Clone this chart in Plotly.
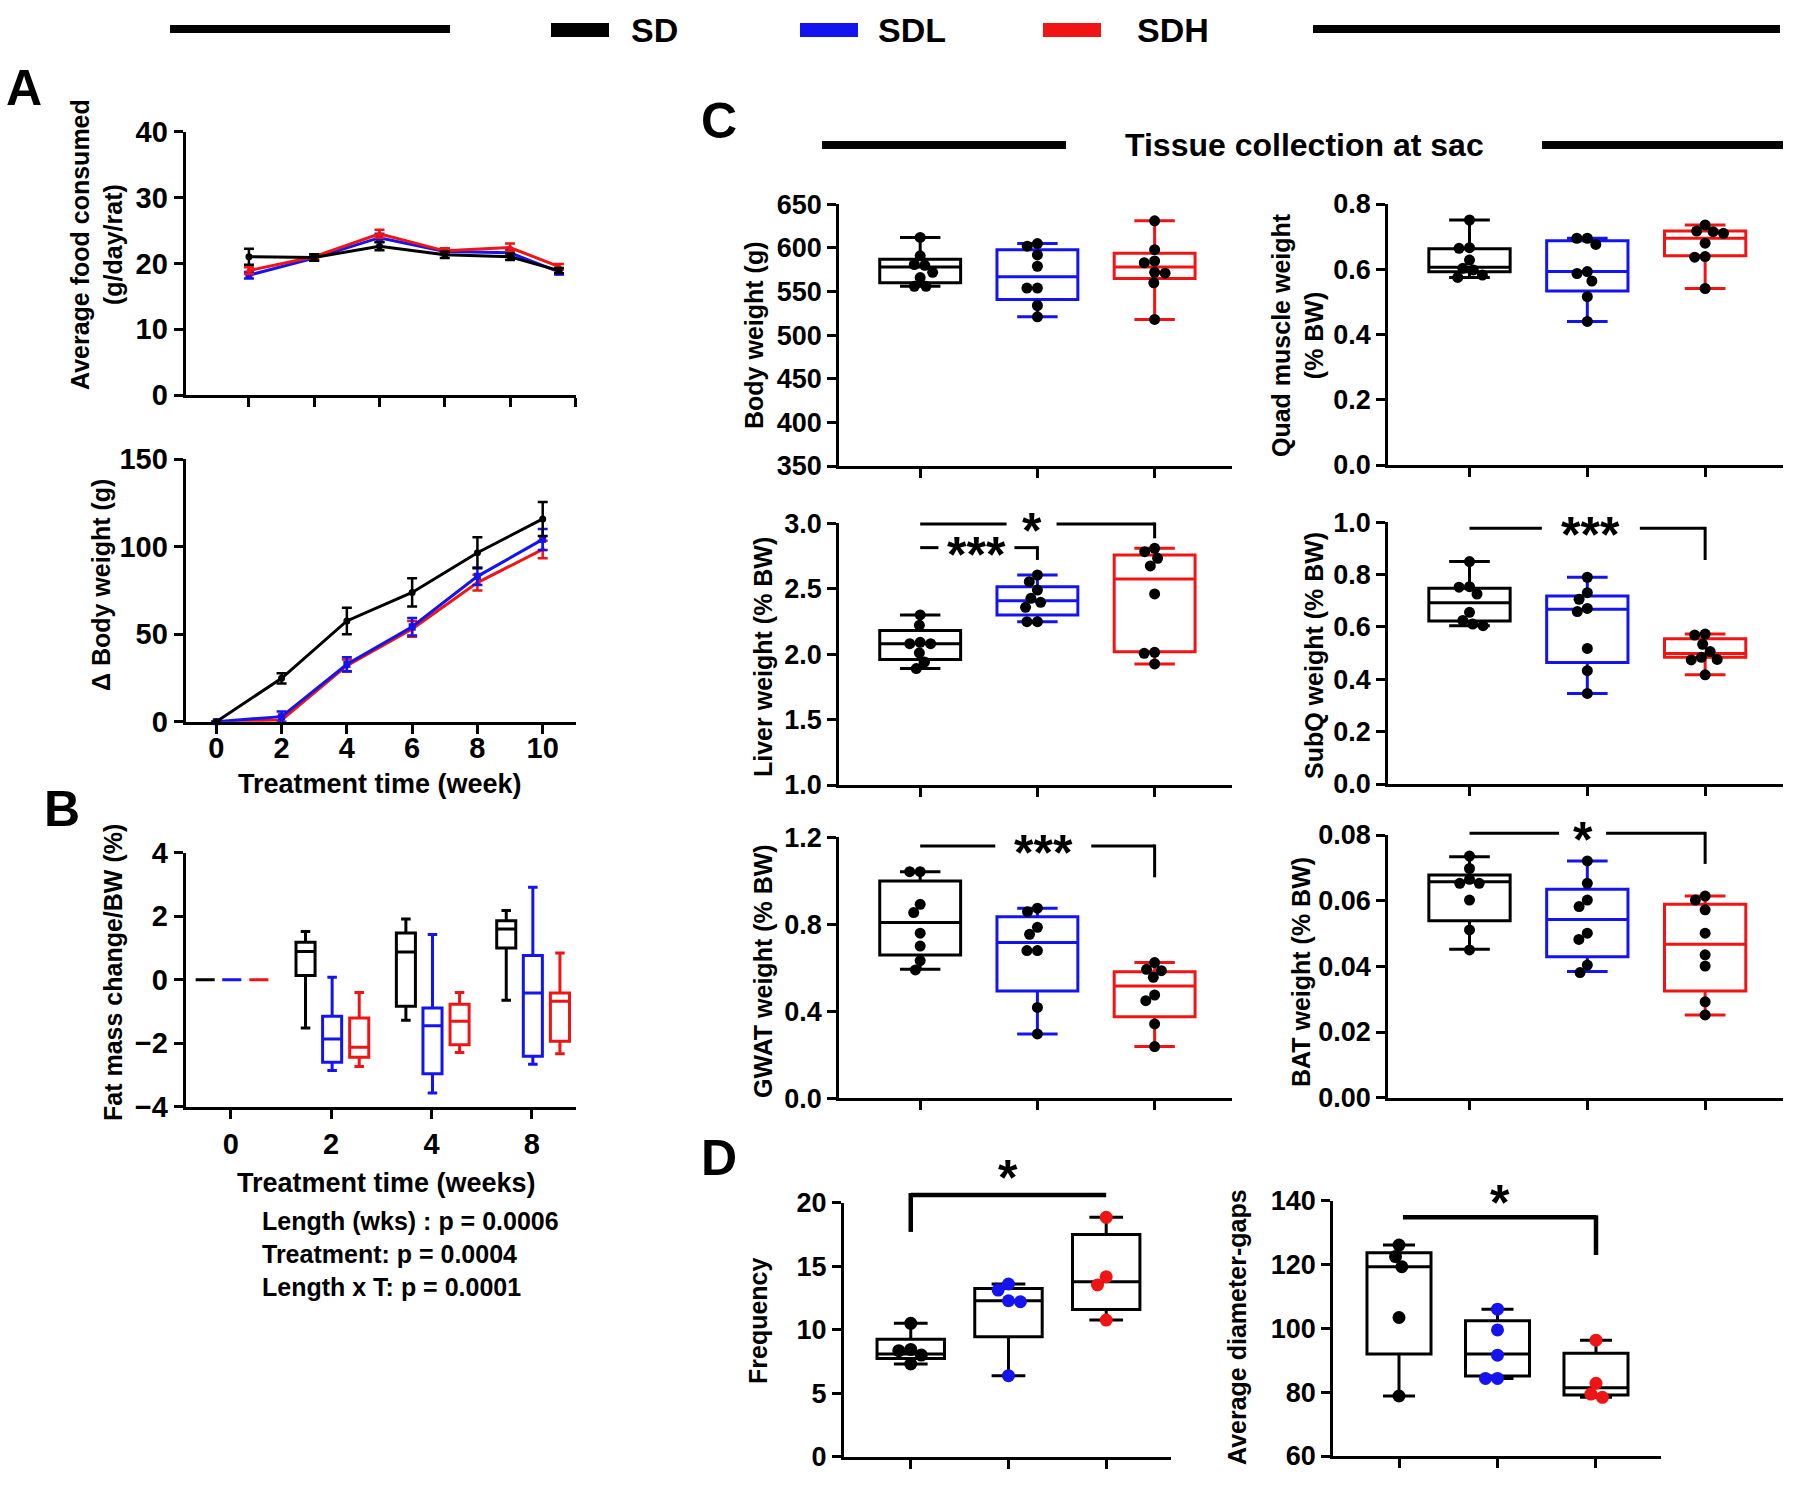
import plotly.graph_objects as go

W, H = 1800, 1506
FONT = "Liberation Sans, Arial, sans-serif"
BLACK, BLUE, RED = "#000000", "#1414f0", "#f01414"
GROUPS = ["SD", "SDL", "SDH"]

# ---------------- Panel A data ----------------
food_weeks = [1, 3, 5, 7, 9, 10.5]
food_sd = [21.0, 20.9, 22.6, 21.3, 21.0, 18.9]
food_sdl = [18.2, 20.8, 23.9, 21.8, 21.6, 18.7]
food_sdh = [18.9, 21.0, 24.5, 21.9, 22.4, 19.5]
food_err_sd = [1.2, 0.5, 0.6, 0.5, 0.5, 0.4]
food_err_sdl = [0.5, 0.4, 0.6, 0.4, 0.5, 0.4]
food_err_sdh = [0.5, 0.4, 0.6, 0.4, 0.6, 0.4]

bw_weeks = [0, 2, 4, 6, 8, 10]
dbw_sd = [0, 24.8, 57.6, 73.9, 96.6, 115.9]
dbw_sdl = [0, 2.9, 32.8, 54.3, 83.1, 104.2]
dbw_sdh = [0, 1.0, 32.0, 53.0, 79.5, 98.5]
dbw_err_sd = [0, 2.9, 7.6, 8.1, 8.9, 9.7]
dbw_err_sdl = [0, 3.0, 4.0, 5.0, 5.0, 6.0]
dbw_err_sdh = [0, 2.0, 3.5, 4.5, 4.5, 5.0]

# ---------------- Panel B data (min, q1, median, q3, max) ----------------
fat_weeks = ["0", "2", "4", "8"]
fat_sd = [[0, 0, 0, 0, 0], [-1.52, 0.13, 0.89, 1.18, 1.52],
          [-1.28, -0.84, 0.87, 1.47, 1.91], [-0.65, 1.0, 1.6, 1.86, 2.18]]
fat_sdl = [[0, 0, 0, 0, 0], [-2.86, -2.6, -1.87, -1.15, 0.08],
           [-3.57, -2.96, -1.45, -0.89, 1.42], [-2.66, -2.41, -0.42, 0.76, 2.91]]
fat_sdh = [[0, 0, 0, 0, 0], [-2.73, -2.44, -2.13, -1.21, -0.4],
           [-2.29, -2.05, -1.31, -0.77, -0.4], [-2.33, -1.94, -0.68, -0.42, 0.84]]
p_texts = ["Length (wks) : p = 0.0006", "Treatment: p = 0.0004", "Length x T: p = 0.0001"]

# ---------------- Panel C data ----------------
body_pts = [[612, 591, 581, 580, 572, 566, 556, 556],
            [605, 602, 592, 579, 554, 554, 534, 521],
            [631, 598, 585, 583, 572, 571, 560, 518]]
body_stats = [[556, 560, 578, 587, 612], [521, 541, 567, 598, 605], [518, 565, 578, 594, 631]]

quad_pts = [[0.751, 0.666, 0.664, 0.628, 0.603, 0.598, 0.582, 0.575],
            [0.695, 0.695, 0.676, 0.593, 0.587, 0.564, 0.516, 0.44],
            [0.736, 0.717, 0.715, 0.71, 0.68, 0.639, 0.637, 0.541]]
quad_stats = [[0.575, 0.592, 0.606, 0.663, 0.751], [0.44, 0.533, 0.593, 0.687, 0.695],
              [0.541, 0.641, 0.695, 0.717, 0.736]]

liver_pts = [[2.30, 2.22, 2.09, 2.08, 2.08, 2.01, 1.94, 1.89],
             [2.605, 2.554, 2.49, 2.427, 2.396, 2.358, 2.248, 2.248],
             [2.809, 2.783, 2.732, 2.674, 2.46, 2.014, 2.006, 1.925]]
liver_stats = [[1.89, 1.96, 2.08, 2.18, 2.30], [2.248, 2.30, 2.409, 2.516, 2.605],
               [1.925, 2.019, 2.575, 2.758, 2.809]]

subq_pts = [[0.85, 0.754, 0.752, 0.726, 0.656, 0.625, 0.611, 0.605],
            [0.79, 0.731, 0.706, 0.671, 0.659, 0.518, 0.433, 0.346],
            [0.573, 0.569, 0.534, 0.506, 0.484, 0.476, 0.474, 0.417]]
subq_stats = [[0.605, 0.623, 0.693, 0.748, 0.85], [0.346, 0.464, 0.668, 0.718, 0.79],
              [0.417, 0.484, 0.499, 0.555, 0.573]]

gwat_pts = [[1.042, 1.042, 0.892, 0.854, 0.759, 0.70, 0.633, 0.59],
            [0.874, 0.858, 0.786, 0.754, 0.679, 0.679, 0.418, 0.296],
            [0.624, 0.593, 0.587, 0.556, 0.475, 0.449, 0.342, 0.238]]
gwat_stats = [[0.593, 0.659, 0.808, 0.999, 1.042], [0.296, 0.493, 0.716, 0.835, 0.874],
              [0.238, 0.375, 0.516, 0.582, 0.624]]

bat_pts = [[0.0736, 0.0698, 0.0665, 0.0653, 0.0653, 0.0602, 0.0511, 0.045],
           [0.0721, 0.0653, 0.0602, 0.0582, 0.0501, 0.0482, 0.0404, 0.0381],
           [0.0614, 0.0602, 0.0572, 0.0501, 0.0435, 0.0401, 0.0292, 0.0252]]
bat_stats = [[0.0452, 0.0539, 0.0658, 0.0678, 0.0734], [0.0384, 0.0429, 0.0543, 0.0635, 0.0721],
             [0.0252, 0.0325, 0.0467, 0.0589, 0.0614]]

# ---------------- Panel D data ----------------
freq_pts = [[10.5, 8.45, 8.35, 8.0, 7.3], [13.6, 13.12, 12.28, 12.2, 6.38], [18.85, 14.17, 13.52, 10.76]]
freq_stats = [[7.3, 7.74, 8.08, 9.24, 10.5], [6.38, 9.45, 12.28, 13.25, 13.6], [10.76, 11.6, 13.78, 17.5, 18.85]]

gap_pts = [[126.1, 122.5, 119.3, 103.4, 78.8], [106, 99.5, 91.6, 84.3, 84.3], [96.3, 82.8, 79.4, 78.4]]
gap_stats = [[78.8, 92, 119.3, 123.7, 126.1], [84.3, 85.1, 92, 102.4, 106], [78.4, 79.1, 81.4, 92.2, 96.3]]

# =====================================================================
TICK_FS_AB = 29
TICK_FS_CD = 27
TITLE_FS = 25
fig = go.Figure()
panels = {}


def tfont(size):
    return dict(family=FONT, size=size, color="black", weight="bold")


def add_axes(idx, px, py, xr, yr, ytickvals, yfmt=None, xtickvals=None, xticktext=None, xstandoff=0,
             tick_fs=TICK_FS_CD):
    x0, x1 = px
    y0, y1 = py
    panels[idx] = dict(px=px, py=py, xr=xr, yr=yr)
    sx = "" if idx == 1 else str(idx)
    common = dict(showline=True, linewidth=3, linecolor="black", ticks="outside", ticklen=9,
                  tickwidth=3, tickcolor="black", showgrid=False, zeroline=False,
                  tickfont=tfont(tick_fs), fixedrange=True, automargin=False)
    xa = dict(domain=[x0 / W, x1 / W], range=xr, anchor="y" + sx, tickvals=xtickvals, **common)
    if xticktext is None:
        xa["showticklabels"] = False
    else:
        xa["ticktext"] = xticktext
        xa["ticklabelstandoff"] = xstandoff
    ya = dict(domain=[1 - y1 / H, 1 - y0 / H], range=yr, anchor="x" + sx, tickvals=ytickvals, **common)
    if yfmt:
        ya["tickformat"] = yfmt
    fig.update_layout(**{"xaxis" + sx: xa, "yaxis" + sx: ya})
    return "x" + sx, "y" + sx


def to_paper(idx, x, y):
    p = panels[idx]
    (x0, x1), (y0, y1), xr, yr = p["px"], p["py"], p["xr"], p["yr"]
    px = x0 + (x - xr[0]) / (xr[1] - xr[0]) * (x1 - x0)
    py = y1 - (y - yr[0]) / (yr[1] - yr[0]) * (y1 - y0)
    return px, py


def txt(text, x, y, size, xanchor="center", yanchor="middle", angle=0):
    fig.add_annotation(text=text, x=x / W, y=1 - y / H, xref="paper", yref="paper", showarrow=False,
                       font=tfont(size), xanchor=xanchor, yanchor=yanchor, textangle=angle)


def seg(x0, y0, x1, y1, w, color="black"):
    fig.add_shape(type="line", xref="paper", yref="paper", x0=x0 / W, y0=1 - y0 / H,
                  x1=x1 / W, y1=1 - y1 / H, line=dict(color=color, width=w))


def swarm(vals, idx, d=10.5):
    p = panels[idx]
    ypu = (p["py"][1] - p["py"][0]) / (p["yr"][1] - p["yr"][0])
    xpu = (p["px"][1] - p["px"][0]) / (p["xr"][1] - p["xr"][0])
    placed, offs = [], [0.0] * len(vals)
    for i in sorted(range(len(vals)), key=lambda k: -vals[k]):
        y = vals[i] * ypu
        cands = [0.0]
        for (qx, qy) in placed:
            dy = abs(qy - y)
            if dy < d:
                dx = (d * d - dy * dy) ** 0.5
                cands += [qx + dx, qx - dx]
        cands.sort(key=lambda c: (round(abs(c), 3), c))
        chosen = cands[0]
        for c in cands:
            if all((c - qx) ** 2 + (y - qy) ** 2 >= d * d - 1e-6 for qx, qy in placed):
                chosen = c
                break
        placed.append((chosen, y))
        offs[i] = chosen / xpu
    return offs


def box(xa, ya, pos, st, color, width, lw=3):
    fig.add_trace(go.Box(x=[pos], lowerfence=[st[0]], q1=[st[1]], median=[st[2]], q3=[st[3]],
                         upperfence=[st[4]], width=width, whiskerwidth=0.5,
                         line=dict(color=color, width=lw), fillcolor="rgba(0,0,0,0)",
                         boxpoints=False, xaxis=xa, yaxis=ya, hoverinfo="skip", showlegend=False))


# ---------------- A top ----------------
xa, ya = add_axes(1, (185.6, 576), (131.7, 395), [-0.94, 11.02], [0, 40], [0, 10, 20, 30, 40],
                  xtickvals=[1, 3, 5, 7, 9, 11], tick_fs=TICK_FS_AB)
for yv, err, col, sym in [(food_sdl, food_err_sdl, BLUE, "square"), (food_sdh, food_err_sdh, RED, "triangle-up"),
                          (food_sd, food_err_sd, BLACK, "circle")]:
    fig.add_trace(go.Scatter(x=food_weeks, y=yv, mode="lines+markers", line=dict(color=col, width=3),
                             marker=dict(color=col, size=7, symbol=sym),
                             error_y=dict(type="data", array=err, color=col, thickness=2.5, width=5),
                             xaxis=xa, yaxis=ya, showlegend=False, cliponaxis=False))

# ---------------- A bottom ----------------
xa, ya = add_axes(2, (185.6, 576), (459.3, 721.7), [-0.94, 11.02], [0, 150], [0, 50, 100, 150],
                  xtickvals=bw_weeks, xticktext=[str(v) for v in bw_weeks], xstandoff=-11,
                  tick_fs=TICK_FS_AB)
for yv, err, col, sym in [(dbw_sdh, dbw_err_sdh, RED, "triangle-up"), (dbw_sdl, dbw_err_sdl, BLUE, "square"),
                          (dbw_sd, dbw_err_sd, BLACK, "circle")]:
    fig.add_trace(go.Scatter(x=bw_weeks, y=yv, mode="lines+markers", line=dict(color=col, width=3),
                             marker=dict(color=col, size=7, symbol=sym),
                             error_y=dict(type="data", array=err, color=col, thickness=2.5, width=5),
                             xaxis=xa, yaxis=ya, showlegend=False, cliponaxis=False))

# ---------------- B ----------------
xa, ya = add_axes(3, (185.6, 576), (852.7, 1106.7), [-0.45, 3.44], [-4, 4], [-4, -2, 0, 2, 4],
                  xtickvals=[0, 1, 2, 3], xticktext=fat_weeks, xstandoff=0, tick_fs=TICK_FS_AB)
for g_stats, col, off in [(fat_sd, BLACK, -0.255), (fat_sdl, BLUE, 0.01), (fat_sdh, RED, 0.28)]:
    for i, st in enumerate(g_stats):
        box(xa, ya, i + off, st, col, 0.19)

# ---------------- C ----------------
c_specs = [
    (4, (839.3, 1232), (204.3, 466), [350, 650], list(range(350, 651, 50)), None, body_pts, body_stats),
    (5, (1388.2, 1782.9), (204, 465), [0, 0.8], [0, 0.2, 0.4, 0.6, 0.8], ".1f", quad_pts, quad_stats),
    (6, (839.3, 1232), (523.3, 785), [1, 3], [1.0, 1.5, 2.0, 2.5, 3.0], ".1f", liver_pts, liver_stats),
    (7, (1388.2, 1782.9), (522.3, 784), [0, 1], [0, 0.2, 0.4, 0.6, 0.8, 1.0], ".1f", subq_pts, subq_stats),
    (8, (839.3, 1232), (837.3, 1098.3), [0, 1.2], [0, 0.4, 0.8, 1.2], ".1f", gwat_pts, gwat_stats),
    (9, (1388.2, 1782.9), (835, 1097.7), [0, 0.08], [0, 0.02, 0.04, 0.06, 0.08], ".2f", bat_pts, bat_stats),
]
for idx, px, py, yr, tv, fmt, pts, stats in c_specs:
    xa, ya = add_axes(idx, px, py, [-0.69, 2.66], yr, tv, yfmt=fmt, xtickvals=[0, 1, 2])
    for g, col in enumerate([BLACK, BLUE, RED]):
        box(xa, ya, g, stats[g], col, 0.69)
    for g in range(3):
        offs = swarm(pts[g], idx)
        fig.add_trace(go.Scatter(x=[g + o for o in offs], y=pts[g], mode="markers",
                                 marker=dict(color="black", size=11), xaxis=xa, yaxis=ya,
                                 showlegend=False, cliponaxis=False, hoverinfo="skip"))

# ---------------- D ----------------
d_specs = [
    (10, (844, 1170.7), (1202.7, 1456.7), [-0.683, 2.66], [0, 20], [0, 5, 10, 15, 20], freq_pts, freq_stats, 0.69),
    (11, (1333.2, 1661), (1200.7, 1456), [-0.668, 2.66], [60, 140], [60, 80, 100, 120, 140], gap_pts, gap_stats, 0.65),
]
for idx, px, py, xr, yr, tv, pts, stats, bw in d_specs:
    xa, ya = add_axes(idx, px, py, xr, yr, tv, xtickvals=[0, 1, 2])
    for g in range(3):
        box(xa, ya, g, stats[g], BLACK, bw)
    for g, col in enumerate([BLACK, BLUE, RED]):
        offs = swarm(pts[g], idx, d=12)
        fig.add_trace(go.Scatter(x=[g + o for o in offs], y=pts[g], mode="markers",
                                 marker=dict(color=col, size=13), xaxis=xa, yaxis=ya,
                                 showlegend=False, cliponaxis=False, hoverinfo="skip"))

# ---------------- significance brackets ----------------
# (panel, x0, x1, y, ydrop, label, label_x, gap_px)
brackets = [
    (6, 0, 2, 2.995, 2.885, "*", 0.95, 50),
    (6, 0, 1, 2.814, 2.72, "***", 0.48, 76),
    (7, 0, 2, 0.977, 0.856, "***", 1.03, 98),
    (8, 0, 2, 1.16, 1.016, "***", 1.05, 96),
    (9, 0, 2, 0.0805, 0.0712, "*", 0.96, 47),
]
STAR_FS = 50
for idx, bx0, bx1, by, bdrop, lab, lx, gap in brackets:
    pa, pyy = to_paper(idx, bx0, by)
    pb, _ = to_paper(idx, bx1, by)
    pc, _ = to_paper(idx, lx, by)
    _, pd = to_paper(idx, bx1, bdrop)
    seg(pa, pyy, pc - gap / 2, pyy, 3)
    seg(pc + gap / 2, pyy, pb, pyy, 3)
    seg(pb, pyy - 1.5, pb, pd, 3)
    txt(lab, pc, pyy + 7, STAR_FS)

# D brackets
fa, fy = to_paper(10, 0, 20.6)
fb, _ = to_paper(10, 2, 20.6)
_, fd = to_paper(10, 0, 17.7)
seg(fa, fy, fb, fy, 4.5)
seg(fa, fy - 2, fa, fd, 4.5)
sx_, sy_ = to_paper(10, 1.0, 22.3)
txt("*", sx_, sy_ + 5, STAR_FS)

ga, gy = to_paper(11, 0.04, 134.8)
gb, _ = to_paper(11, 2, 134.8)
_, gd = to_paper(11, 2, 123)
seg(ga, gy, gb, gy, 4.5)
seg(gb, gy - 2, gb, gd, 4.5)
sx_, sy_ = to_paper(11, 1.03, 140.7)
txt("*", sx_, sy_ + 5, STAR_FS)

# ---------------- legend & headers ----------------
seg(170, 29, 450, 29, 8)
seg(1313, 29, 1780, 29, 8)
for (x0, x1), col, lab, tx in [((551, 609), BLACK, "SD", 629), ((800, 858), BLUE, "SDL", 876),
                               ((1043, 1101), RED, "SDH", 1135)]:
    fig.add_shape(type="rect", xref="paper", yref="paper", x0=x0 / W, x1=x1 / W,
                  y0=1 - 37 / H, y1=1 - 23 / H, fillcolor=col, line=dict(width=0))
    txt(lab, tx, 30, 34, xanchor="left")

seg(822, 145, 1066, 145, 8)
seg(1542, 145, 1783, 145, 8)
txt("Tissue collection at sac", 1304, 145, 32)

for lab, x, y in [("A", 24, 88), ("B", 62, 809), ("C", 719, 121), ("D", 719, 1158)]:
    txt(lab, x, y, 50)

# ---------------- axis titles ----------------
ytitles = [
    ("Average food consumed<br>(g/day/rat)", 97, 245),
    ("\u0394 Body weight (g)", 101, 585),
    ("Fat mass change/BW (%)", 113, 973),
    ("Body weight (g)", 754, 336),
    ("Quad muscle weight<br>(% BW)", 1297, 335),
    ("Liver weight (% BW)", 763, 657),
    ("SubQ weight (% BW)", 1314, 656),
    ("GWAT weight (% BW)", 763, 971),
    ("BAT weight (% BW)", 1301, 972),
    ("Frequency", 758, 1321),
    ("Average diameter-gaps", 1237, 1327),
]
for t, x, y in ytitles:
    txt(t, x, y, TITLE_FS, angle=-90)

txt("Treatment time (week)", 380, 784, 27)
txt("Treatment time (weeks)", 386, 1183, 27)
for i, t in enumerate(p_texts):
    txt(t, 260, 1221 + 33 * i, 25, xanchor="left")

fig.update_layout(width=W, height=H, margin=dict(l=0, r=0, t=0, b=0, pad=0, autoexpand=False),
                  plot_bgcolor="white", paper_bgcolor="white", showlegend=False, boxmode="overlay")
fig.write_html("out.html", config={"displayModeBar": False},
               post_script="document.body.style.margin='0px';")
